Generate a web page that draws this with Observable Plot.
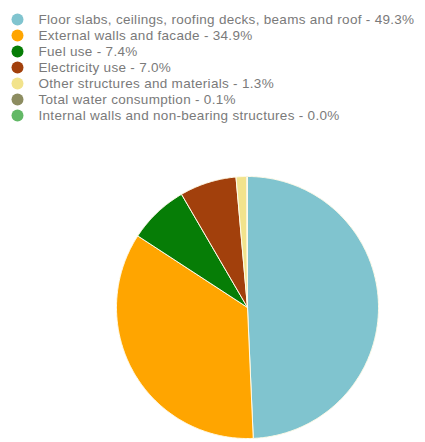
<!DOCTYPE html>
<html>
<head>
<meta charset="utf-8">
<script src="https://cdn.jsdelivr.net/npm/d3@7"></script>
<script src="https://cdn.jsdelivr.net/npm/@observablehq/plot@0.6"></script>
<style>
  html, body { margin: 0; padding: 0; background: #fff; }
  #chart svg { display: block; }
</style>
</head>
<body>
<div id="chart"></div>
<script>
const categories = [
  "Floor slabs, ceilings, roofing decks, beams and roof",
  "External walls and facade",
  "Fuel use",
  "Electricity use",
  "Other structures and materials",
  "Total water consumption",
  "Internal walls and non-bearing structures"
];
const values = [49.3, 34.9, 7.4, 7.0, 1.3, 0.1, 0.0];
const colors = ["#80c4cf", "#ffa500", "#067d06", "#a2400c", "#f2e38c", "#8c8c60", "#62b866"];

const labels = categories.map((c, i) => `${c} - ${values[i].toFixed(1)}%`);
const rows = categories.map((c, i) => ({cat: c, label: labels[i], value: values[i]}));

// Legend
const legend = Plot.plot({
  width: 425,
  height: 125,
  margin: 0,
  axis: null,
  x: {domain: [0, 1]},
  y: {type: "point", domain: categories, range: [17, 116], padding: 0},
  color: {domain: categories, range: colors},
  style: {letterSpacing: "0.3px"},
  marks: [
    Plot.dot(rows, {y: "cat", frameAnchor: "left", dx: 17, r: 6, fill: "cat", stroke: "none"}),
    Plot.text(rows, {y: "cat", text: "label", frameAnchor: "left", dx: 38, textAnchor: "start",
      fill: "#7a7a7a", fontSize: 13.5, fontFamily: "Liberation Sans, Arial, sans-serif"})
  ]
});

// Pie geometry from d3.pie (clockwise from 12 o'clock)
const arcs = d3.pie().sort(null).value(d => d.value)(rows);
const pts = [];
arcs.forEach(a => {
  if (a.endAngle - a.startAngle <= 0) return;
  const n = Math.max(2, Math.ceil((a.endAngle - a.startAngle) / 0.01));
  pts.push({cat: a.data.cat, x: 0, y: 0});
  for (let k = 0; k <= n; k++) {
    const t = a.startAngle + (a.endAngle - a.startAngle) * k / n;
    pts.push({cat: a.data.cat, x: Math.sin(t), y: Math.cos(t)});
  }
  pts.push({cat: a.data.cat, x: 0, y: 0});
});

const cx = 247, R = 131, cyTop = 51;
const pie = Plot.plot({
  width: 425,
  height: 317,
  marginLeft: cx - R,
  marginRight: 425 - (cx + R),
  marginTop: cyTop,
  marginBottom: 317 - (cyTop + 2 * R),
  axis: null,
  x: {domain: [-1, 1]},
  y: {domain: [-1, 1]},
  color: {domain: categories, range: colors},
  marks: [
    Plot.line(pts, {x: "x", y: "y", z: "cat", fill: "cat", stroke: "#fffbe8", strokeWidth: 1, curve: "linear-closed"})
  ]
});

const root = document.getElementById("chart");
root.appendChild(legend);
root.appendChild(pie);
</script>
</body>
</html>
